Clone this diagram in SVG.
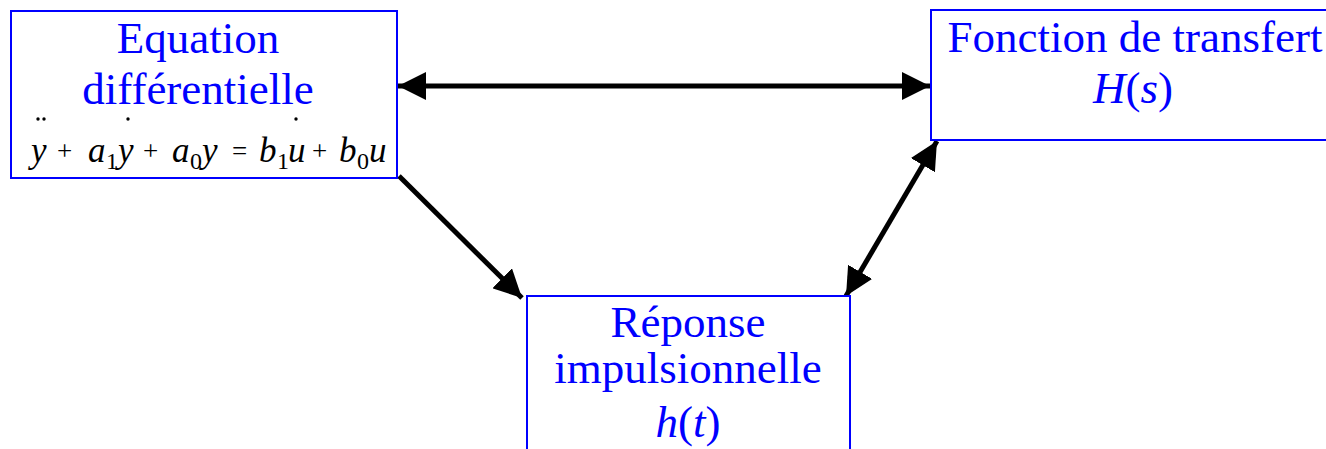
<svg xmlns="http://www.w3.org/2000/svg" width="1326" height="449" viewBox="0 0 1326 449">
<style>
.box{fill:#fff;stroke:#0000ff;stroke-width:2}
.lbl{font-family:"Liberation Serif","Times New Roman",serif;font-size:45px;fill:#0000ff;text-anchor:middle}
.it{font-style:italic}
.eq{font-family:"Liberation Serif","Times New Roman",serif;font-size:35px;fill:#000;font-style:italic}
.op{font-family:"Liberation Serif","Times New Roman",serif;font-size:27px;fill:#000}
.sub{font-family:"Liberation Serif","Times New Roman",serif;font-size:24px;fill:#000}
.con{stroke:#000;stroke-width:5;fill:none}
</style>
<defs>
<marker id="ah" viewBox="0 0 28 28" refX="28" refY="14" markerWidth="28" markerHeight="28" markerUnits="userSpaceOnUse" orient="auto-start-reverse">
<path d="M0,0 L28,14 L0,28 Z" fill="#000"/>
</marker>
</defs>
<g id="connectors">
<line class="con" x1="398" y1="86" x2="930" y2="86" marker-start="url(#ah)" marker-end="url(#ah)"/>
<line class="con" x1="399" y1="176" x2="522" y2="298" marker-end="url(#ah)"/>
<line class="con" x1="846" y1="296" x2="937" y2="141" marker-start="url(#ah)" marker-end="url(#ah)"/>
</g>
<g id="node-equation">
<rect class="box" x="11" y="11" width="386" height="167"/>
<text class="lbl" x="198" y="53">Equation</text>
<text class="lbl" x="198" y="104">différentielle</text>
<circle cx="38" cy="119" r="1.7" fill="#000"/>
<circle cx="44" cy="119" r="1.7" fill="#000"/>
<circle cx="128" cy="119" r="1.7" fill="#000"/>
<circle cx="296" cy="119" r="1.7" fill="#000"/>
<text class="eq" x="31" y="162">y</text>
<text class="op" x="57" y="160">+</text>
<text class="eq" x="88" y="162">a</text>
<text class="sub" x="106" y="169">1</text>
<text class="eq" x="118" y="162">y</text>
<text class="op" x="143" y="160">+</text>
<text class="eq" x="172" y="162">a</text>
<text class="sub" x="190" y="169">0</text>
<text class="eq" x="202" y="162">y</text>
<text class="op" x="232" y="160">=</text>
<text class="eq" x="259" y="162">b</text>
<text class="sub" x="277" y="169">1</text>
<text class="eq" x="288" y="162">u</text>
<text class="op" x="312" y="160">+</text>
<text class="eq" x="339" y="162">b</text>
<text class="sub" x="357" y="169">0</text>
<text class="eq" x="369" y="162">u</text>
</g>
<g id="node-transfert">
<rect class="box" x="931" y="10" width="400" height="130"/>
<text class="lbl" x="1135" y="52">Fonction de transfert</text>
<text class="lbl" x="1133" y="103"><tspan class="it">H</tspan>(<tspan class="it">s</tspan>)</text>
</g>
<g id="node-reponse">
<rect class="box" x="527" y="296" width="323" height="170"/>
<text class="lbl" x="688" y="337">Réponse</text>
<text class="lbl" x="688" y="383">impulsionnelle</text>
<text class="lbl" x="688" y="437"><tspan class="it">h</tspan>(<tspan class="it">t</tspan>)</text>
</g>
</svg>
